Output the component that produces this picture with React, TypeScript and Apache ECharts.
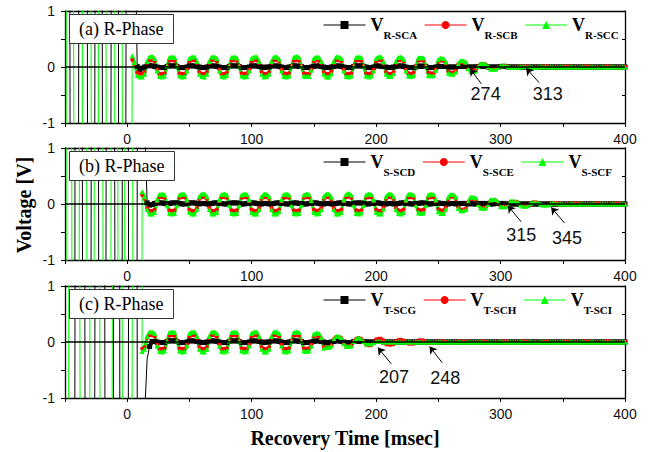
import React, { useEffect, useRef } from "react";
import * as echarts from "echarts";

// ---------- sampling ----------
const sampleStep = 2; // ms between recorded samples
const startBlackA = 8;
const startRedA = 4;
const startGreenA = 4;
const startBlackB = 16;
const startRedB = 12;
const startGreenB = 12;
const startBlackC = 18;
const startRedC = 12;
const startGreenC = 12;

// ---------- pre-fault off-scale swings and transients (time ms / volts) ----------
const preBlackTA = [-49, -43, -35, -29, -23, -17, -9, -5, 3, 6];
const preBlackVA = [50, -50, 50, -50, 50, -50, 50, -50, 50, 3];
const preGreenTA = [-50, -48, -38, -34, -24, -22, -12, -8, 0];
const preGreenVA = [-50, 50, -50, 50, -50, 50, -50, 50, -50];

const preBlackTB = [-44, -40, -32, -26, -20, -14, -6, -2, 4, 12, 14];
const preBlackVB = [-50, 50, -50, 50, -50, 50, -50, 50, -50, 50, 1.5];
const preGreenTB = [-50, -47, -42, -35, -30, -23, -16, -10, -5, 1, 8];
const preGreenVB = [-50, 50, -50, 50, -50, 50, -50, 50, -50, 50, -50];

const preBlackTC = [-46, -38, -30, -22, -14, -8, -4, 6, 10, 14, 16];
const preBlackVC = [-50, 50, -50, 50, -50, 50, -50, 50, -50, -1.3, -0.3];
const preGreenTC = [-50, -44, -32, -28, -16, -8, 0, 8];
const preGreenVC = [-50, 50, -50, 50, -50, 50, -50, 50];

// ---------- panel (a) samples ----------
const blackA = [
  0.01,
  -0.05, -0.02, 0, 0.02, 0.03, 0.02, 0.01, 0, -0.01, -0.01, -0.01, 0.01, 0.02, 0.02, 0.02, 0.01, -0.01, -0.01, -0.01, 0, 0.02, 0.02, 0.02, 0.01, 0,
  -0.01, -0.01, 0, 0.02, 0.02, 0.02, 0.01, 0, -0.01, -0.01, -0.01, 0.01, 0.02, 0.02, 0.02, 0.01, -0.01, -0.01, -0.01, 0, 0.02, 0.02, 0.02, 0.01, 0,
  -0.01, 0, 0, 0.02, 0.02, 0.02, 0.01, 0, -0.01, -0.01, 0, 0.01, 0.02, 0.02, 0.01, 0.01, -0.01, -0.01, -0.01, 0, 0.01, 0.02, 0.02, 0.01, 0,
  -0.01, -0.01, 0, 0.01, 0.02, 0.02, 0.01, 0, -0.01, -0.01, -0.01, 0.01, 0.02, 0.02, 0.02, 0.01, 0, -0.01, -0.01, 0, 0.02, 0.02, 0.01, 0.01, 0,
  -0.01, -0.01, 0, 0.01, 0.02, 0.02, 0.01, 0, -0.01, -0.01, -0.01, 0, 0.01, 0.02, 0.01, 0.01, -0.01, -0.01, -0.01, 0, 0.01, 0.01, 0.01, 0.01, 0,
  0, 0, 0, 0.01, 0.01, 0.01, 0.01, 0, 0, 0, 0, 0.01, 0.01, 0.01, 0.01, 0, 0, 0, 0, 0, 0.01, 0.01, 0.01, 0, 0,
  0, 0, 0, 0, 0, 0, 0, 0, 0, 0, 0, 0, 0, 0, 0, 0, 0, 0, 0, 0, 0, 0, 0, 0, 0,
  0, 0, 0, 0, 0, 0, 0, 0, 0, 0, 0, 0, 0, 0, 0, 0, 0, 0, 0, 0, 0,
];
const redA = [
  0.13, 0.05, -0.1,
  -0.12, -0.12, -0.09, 0.07, 0.12, 0.12, 0.1, -0.04, -0.12, -0.12, -0.11, 0.02, 0.11, 0.12, 0.11, 0.02, -0.11, -0.12, -0.12, -0.04, 0.1, 0.12, 0.12, 0.07, -0.09,
  -0.12, -0.12, -0.09, 0.07, 0.12, 0.13, 0.1, -0.04, -0.12, -0.12, -0.1, 0.02, 0.11, 0.12, 0.11, 0.02, -0.11, -0.12, -0.11, -0.04, 0.1, 0.12, 0.12, 0.07, -0.09,
  -0.12, -0.12, -0.09, 0.07, 0.12, 0.12, 0.1, -0.04, -0.11, -0.12, -0.11, 0.02, 0.11, 0.12, 0.11, 0.02, -0.11, -0.12, -0.12, -0.04, 0.1, 0.12, 0.11, 0.07, -0.09,
  -0.12, -0.12, -0.08, 0.07, 0.12, 0.12, 0.1, -0.04, -0.12, -0.12, -0.11, 0.02, 0.11, 0.12, 0.11, 0.02, -0.11, -0.12, -0.11, -0.04, 0.1, 0.12, 0.12, 0.06, -0.09,
  -0.12, -0.12, -0.09, 0.07, 0.12, 0.12, 0.1, -0.04, -0.11, -0.12, -0.1, 0.02, 0.11, 0.12, 0.11, 0.02, -0.1, -0.11, -0.11, -0.04, 0.09, 0.11, 0.11, 0.06, -0.08,
  -0.1, -0.1, -0.07, 0.05, 0.08, 0.08, 0.07, -0.02, -0.06, -0.06, -0.05, 0.01, 0.05, 0.05, 0.04, 0.01, -0.03, -0.03, -0.03, -0.01, 0.02, 0.02, 0.02, 0.01, -0.01,
  -0.01, -0.01, -0.01, 0.01, 0.01, 0.01, 0.01, 0, -0.01, -0.01, -0.01, 0, 0.01, 0.01, 0.01, 0, -0.01, -0.01, -0.01, 0, 0.01, 0.01, 0.01, 0.01, -0.01,
  -0.01, -0.01, -0.01, 0.01, 0.01, 0.01, 0.01, 0, -0.01, -0.01, -0.01, 0, 0.01, 0.01, 0.01, 0, -0.01, -0.01, -0.01, 0, 0.01,
];
const greenA = [
  0.2, 0.08, -0.15,
  -0.18, -0.18, -0.13, 0.1, 0.18, 0.19, 0.15, -0.07, -0.17, -0.18, -0.16, 0.02, 0.17, 0.18, 0.17, 0.02, -0.16, -0.18, -0.17, -0.07, 0.15, 0.18, 0.18, 0.1, -0.13,
  -0.17, -0.18, -0.13, 0.1, 0.18, 0.18, 0.15, -0.07, -0.17, -0.18, -0.15, 0.02, 0.17, 0.18, 0.16, 0.02, -0.16, -0.18, -0.17, -0.07, 0.15, 0.18, 0.18, 0.1, -0.13,
  -0.18, -0.17, -0.13, 0.1, 0.18, 0.18, 0.14, -0.07, -0.17, -0.18, -0.16, 0.02, 0.17, 0.19, 0.17, 0.02, -0.16, -0.17, -0.17, -0.06, 0.15, 0.18, 0.17, 0.1, -0.13,
  -0.18, -0.18, -0.12, 0.1, 0.18, 0.18, 0.15, -0.07, -0.17, -0.18, -0.16, 0.02, 0.17, 0.18, 0.17, 0.02, -0.16, -0.18, -0.16, -0.07, 0.15, 0.18, 0.18, 0.09, -0.13,
  -0.17, -0.17, -0.12, 0.1, 0.17, 0.18, 0.14, -0.07, -0.16, -0.17, -0.15, 0.02, 0.16, 0.17, 0.16, 0.02, -0.15, -0.16, -0.15, -0.06, 0.13, 0.16, 0.15, 0.09, -0.11,
  -0.13, -0.13, -0.09, 0.06, 0.11, 0.11, 0.09, -0.03, -0.08, -0.08, -0.07, 0.01, 0.06, 0.06, 0.06, 0.01, -0.04, -0.04, -0.04, -0.01, 0.02, 0.03, 0.03, 0.01, -0.01,
  -0.01, -0.01, 0, 0, 0.01, 0.01, 0, 0, 0, -0.01, 0, 0, 0, 0.01, 0, 0, 0, 0, 0, 0, 0, 0, 0, 0, 0,
  0, 0, 0, 0, 0, 0, 0, 0, 0, 0, 0, 0, 0, 0, 0, 0, 0, 0, 0, 0, 0,
];

// ---------- panel (b) samples ----------
const blackB = [
  0.02, -0.02, -0.01, 0.01, 0.02, 0.02, 0.02, 0.01, 0, 0.01, 0.02, 0.02, 0.02, 0.01, 0, 0, 0.01, 0.02, 0.02, 0.02, 0.01, 0,
  0.01, 0.01, 0, 0, 0.01, 0.02, 0.02, 0.01, 0.01, 0, 0, 0.01, 0.02, 0.02, 0.02, 0.01, 0, 0, 0.01, 0.01, 0.02, 0.02, 0.01, 0, 0,
  0.01, 0.01, 0, 0, 0.01, 0.02, 0.02, 0.01, 0.01, 0, 0, 0.01, 0.02, 0.02, 0.01, 0.01, 0, 0, 0.01, 0.01, 0.02, 0.02, 0.01, 0, 0,
  0.01, 0.01, 0, 0, 0.01, 0.02, 0.02, 0.01, 0.01, 0, 0, 0.01, 0.02, 0.02, 0.02, 0.01, 0, 0, 0.01, 0.01, 0.02, 0.02, 0.01, 0, 0,
  0.01, 0.01, 0, 0, 0.01, 0.02, 0.02, 0.01, 0.01, 0, 0, 0.01, 0.01, 0.02, 0.02, 0.01, 0, 0, 0.01, 0.01, 0.02, 0.01, 0.01, 0, 0,
  0.01, 0.01, 0, 0, 0.01, 0.01, 0.01, 0, 0.01, 0, 0, 0.01, 0.01, 0.01, 0.01, 0, 0, 0, 0.01, 0.01, 0.01, 0.01, 0, 0, 0,
  0, 0, 0, 0, 0, 0, 0, 0, 0, 0, 0, 0, 0, 0, 0, 0, 0, 0, 0, 0, 0, 0, 0, 0, 0,
  0, 0, 0, 0, 0, 0, 0, 0, 0, 0, 0, 0, 0, 0, 0, 0, 0, 0, 0, 0, 0,
];
const redB = [
  0.16, 0.09, -0.07, -0.12, -0.12, -0.1, 0.04, 0.12, 0.12, 0.11, -0.02, -0.11, -0.12, -0.11, -0.02, 0.11, 0.12, 0.12, 0.04, -0.1, -0.12, -0.12, -0.07, 0.09,
  0.12, 0.12, 0.09, -0.07, -0.12, -0.12, -0.1, 0.04, 0.12, 0.12, 0.11, -0.02, -0.11, -0.12, -0.11, -0.02, 0.11, 0.12, 0.12, 0.04, -0.1, -0.12, -0.12, -0.07, 0.09,
  0.12, 0.12, 0.09, -0.07, -0.12, -0.12, -0.1, 0.04, 0.11, 0.12, 0.11, -0.02, -0.11, -0.12, -0.11, -0.02, 0.11, 0.12, 0.12, 0.04, -0.1, -0.12, -0.11, -0.07, 0.09,
  0.12, 0.12, 0.08, -0.07, -0.12, -0.12, -0.1, 0.04, 0.12, 0.13, 0.11, -0.02, -0.11, -0.12, -0.11, -0.02, 0.11, 0.12, 0.12, 0.04, -0.1, -0.12, -0.12, -0.06, 0.09,
  0.12, 0.12, 0.09, -0.07, -0.11, -0.12, -0.1, 0.04, 0.12, 0.12, 0.11, -0.02, -0.1, -0.11, -0.1, -0.02, 0.11, 0.12, 0.12, 0.04, -0.09, -0.11, -0.11, -0.06, 0.08,
  0.13, 0.13, 0.09, -0.06, -0.1, -0.1, -0.08, 0.03, 0.09, 0.09, 0.08, -0.01, -0.06, -0.07, -0.06, -0.01, 0.06, 0.06, 0.06, 0.02, -0.04, -0.05, -0.05, -0.03, 0.04,
  0.04, 0.04, 0.03, -0.02, -0.03, -0.03, -0.02, 0.01, 0.03, 0.03, 0.02, 0, -0.02, -0.02, -0.02, 0, 0.02, 0.02, 0.01, 0.01, -0.01, -0.01, -0.01, 0, 0.01,
  0.01, 0.01, 0.01, -0.01, -0.01, -0.01, -0.01, 0, 0.01, 0.01, 0.01, 0, -0.01, -0.01, -0.01, 0, 0.01, 0.01, 0.01, 0, -0.01,
];
const greenB = [
  0.22, 0.13, -0.1, -0.18, -0.18, -0.15, 0.07, 0.17, 0.18, 0.16, -0.02, -0.17, -0.18, -0.17, -0.02, 0.16, 0.18, 0.17, 0.07, -0.15, -0.18, -0.18, -0.1, 0.13,
  0.18, 0.18, 0.13, -0.1, -0.18, -0.18, -0.15, 0.07, 0.17, 0.18, 0.16, -0.02, -0.17, -0.18, -0.17, -0.02, 0.16, 0.18, 0.17, 0.07, -0.15, -0.18, -0.18, -0.1, 0.13,
  0.18, 0.17, 0.13, -0.1, -0.18, -0.18, -0.14, 0.07, 0.17, 0.18, 0.16, -0.02, -0.17, -0.18, -0.17, -0.02, 0.16, 0.18, 0.17, 0.06, -0.15, -0.18, -0.17, -0.1, 0.13,
  0.18, 0.18, 0.12, -0.1, -0.18, -0.18, -0.15, 0.07, 0.17, 0.19, 0.16, -0.02, -0.17, -0.18, -0.16, -0.02, 0.16, 0.18, 0.17, 0.07, -0.15, -0.18, -0.18, -0.09, 0.13,
  0.18, 0.18, 0.13, -0.1, -0.17, -0.18, -0.15, 0.07, 0.17, 0.18, 0.16, -0.02, -0.16, -0.17, -0.16, -0.02, 0.16, 0.18, 0.17, 0.07, -0.14, -0.17, -0.17, -0.09, 0.12,
  0.17, 0.17, 0.12, -0.08, -0.12, -0.12, -0.1, 0.04, 0.12, 0.12, 0.11, -0.01, -0.07, -0.08, -0.07, -0.01, 0.07, 0.08, 0.08, 0.03, -0.05, -0.05, -0.05, -0.03, 0.05,
  0.05, 0.05, 0.03, -0.02, -0.04, -0.04, -0.03, 0.01, 0.03, 0.03, 0.03, 0, -0.02, -0.02, -0.02, 0, 0.02, 0.02, 0.01, 0, 0, 0, 0, 0, 0,
  0, 0, 0, 0, 0, 0, 0, 0, 0, 0, 0, 0, 0, 0, 0, 0, 0, 0, 0, 0, 0,
];

// ---------- panel (c) samples ----------
const blackC = [
  -0.08, 0.01, 0.01, 0, -0.01, -0.01, -0.01, 0.01, 0.02, 0.02, 0.02, 0.01, -0.01, -0.01, -0.01, 0, 0.02, 0.02, 0.02, 0.01, 0,
  -0.01, -0.01, 0, 0.02, 0.02, 0.02, 0.01, 0, -0.01, -0.01, -0.01, 0.01, 0.02, 0.02, 0.02, 0.01, -0.01, -0.01, -0.01, 0, 0.02, 0.02, 0.02, 0.01, 0,
  -0.01, 0, 0, 0.02, 0.02, 0.02, 0.01, 0, -0.01, -0.01, 0, 0.01, 0.02, 0.02, 0.01, 0.01, -0.01, -0.01, -0.01, 0, 0.01, 0.02, 0.02, 0.01, 0,
  -0.01, -0.01, 0, 0.01, 0.02, 0.02, 0.01, 0, -0.01, -0.01, -0.01, 0.01, 0.01, 0.01, 0.01, 0.01, 0, 0, 0, 0, 0.01, 0.01, 0.01, 0, 0,
  0, 0, 0, 0, 0, 0, 0, 0, 0, 0, 0, 0, 0, 0, 0, 0, 0, 0, 0, 0, 0, 0, 0, 0, 0,
  0, 0, 0, 0, 0, 0, 0, 0, 0, 0, 0, 0, 0, 0, 0, 0, 0, 0, 0, 0, 0, 0, 0, 0, 0,
  0, 0, 0, 0, 0, 0, 0, 0, 0, 0, 0, 0, 0, 0, 0, 0, 0, 0, 0, 0, 0, 0, 0, 0, 0,
  0, 0, 0, 0, 0, 0, 0, 0, 0, 0, 0, 0, 0, 0, 0, 0, 0, 0, 0, 0, 0,
];
const redC = [
  -0.12, -0.09, 0.07, 0.12, 0.12, 0.1, -0.04, -0.12, -0.12, -0.11, 0.02, 0.11, 0.12, 0.11, 0.02, -0.11, -0.12, -0.12, -0.04, 0.1, 0.12, 0.12, 0.07, -0.09,
  -0.12, -0.12, -0.09, 0.07, 0.12, 0.12, 0.1, -0.04, -0.12, -0.12, -0.11, 0.02, 0.11, 0.12, 0.11, 0.02, -0.11, -0.12, -0.12, -0.04, 0.1, 0.12, 0.12, 0.07, -0.09,
  -0.12, -0.12, -0.09, 0.07, 0.12, 0.12, 0.1, -0.04, -0.12, -0.12, -0.11, 0.02, 0.11, 0.12, 0.11, 0.02, -0.11, -0.12, -0.11, -0.04, 0.1, 0.11, 0.1, 0.06, -0.09,
  -0.09, -0.09, -0.06, 0.05, 0.09, 0.09, 0.07, -0.03, -0.07, -0.07, -0.06, 0.01, 0.06, 0.07, 0.06, 0.01, -0.05, -0.06, -0.06, -0.02, 0.05, 0.06, 0.06, 0.03, -0.04,
  -0.05, -0.05, -0.04, 0.02, 0.04, 0.04, 0.03, -0.01, -0.03, -0.03, -0.03, 0, 0.03, 0.03, 0.03, 0, -0.02, -0.02, -0.02, -0.01, 0.01, 0.01, 0.01, 0.01, -0.01,
  -0.01, -0.01, -0.01, 0.01, 0.01, 0.01, 0.01, 0, -0.01, -0.01, -0.01, 0, 0.01, 0.01, 0.01, 0, -0.01, -0.01, -0.01, 0, 0.01, 0.01, 0.01, 0.01, -0.01,
  -0.01, -0.01, -0.01, 0.01, 0.01, 0.01, 0.01, 0, -0.01, -0.01, -0.01, 0, 0.01, 0.01, 0.01, 0, -0.01, -0.01, -0.01, 0, 0.01, 0.01, 0.01, 0.01, -0.01,
  -0.01, -0.01, -0.01, 0.01, 0.01, 0.01, 0.01, 0, -0.01, -0.01, -0.01, 0, 0.01, 0.01, 0.01, 0, -0.01, -0.01, -0.01, 0, 0.01,
];
const greenC = [
  -0.17, -0.13, 0.1, 0.18, 0.18, 0.15, -0.07, -0.17, -0.18, -0.16, 0.02, 0.17, 0.18, 0.17, 0.02, -0.16, -0.18, -0.17, -0.07, 0.15, 0.18, 0.18, 0.1, -0.13,
  -0.18, -0.18, -0.13, 0.1, 0.18, 0.18, 0.15, -0.07, -0.17, -0.18, -0.16, 0.02, 0.17, 0.18, 0.17, 0.02, -0.16, -0.18, -0.17, -0.07, 0.15, 0.18, 0.18, 0.1, -0.13,
  -0.18, -0.18, -0.13, 0.1, 0.18, 0.18, 0.15, -0.07, -0.17, -0.18, -0.16, 0.02, 0.17, 0.18, 0.17, 0.02, -0.16, -0.17, -0.16, -0.07, 0.14, 0.16, 0.15, 0.08, -0.11,
  -0.1, -0.1, -0.07, 0.06, 0.1, 0.1, 0.08, -0.03, -0.08, -0.08, -0.07, 0.01, 0.06, 0.07, 0.06, 0.01, -0.03, -0.03, -0.03, -0.01, 0.01, 0.01, 0.01, 0, 0,
  0, 0, 0, 0, 0, 0, 0, 0, 0, 0, 0, 0, 0, 0, 0, 0, 0, 0, 0, 0, 0, 0, 0, 0, 0,
  0, 0, 0, 0, 0, 0, 0, 0, 0, 0, 0, 0, 0, 0, 0, 0, 0, 0, 0, 0, 0, 0, 0, 0, 0,
  0, 0, 0, 0, 0, 0, 0, 0, 0, 0, 0, 0, 0, 0, 0, 0, 0, 0, 0, 0, 0, 0, 0, 0, 0,
  0, 0, 0, 0, 0, 0, 0, 0, 0, 0, 0, 0, 0, 0, 0, 0, 0, 0, 0, 0, 0,
];

// ---------- labels ----------
const panelLabels = ["(a) R-Phase", "(b) R-Phase", "(c) R-Phase"];
const seriesNames = [
  ["R-SCA", "R-SCB", "R-SCC"],
  ["S-SCD", "S-SCE", "S-SCF"],
  ["T-SCG", "T-SCH", "T-SCI"],
];
const xTickLabels = [0, 100, 200, 300, 400];
const yTickLabels = [-1, 0, 1];

// annotations: [panel, text, textT, textV, fromT, fromV, toT, toV]
const annotations: [number, string, number, number, number, number, number, number][] = [
  [0, "274", 288, -0.48, 284.5, -0.3, 275.5, -0.03],
  [0, "313", 338, -0.48, 331, -0.28, 320.5, -0.02],
  [1, "315", 316.6, -0.56, 316.6, -0.32, 305.9, -0.03],
  [1, "345", 353.4, -0.6, 351.4, -0.34, 340.7, -0.06],
  [2, "207", 214.3, -0.62, 212.2, -0.39, 201.4, -0.1],
  [2, "248", 255.5, -0.64, 253.1, -0.37, 243, -0.08],
];

function mainPoints(start: number, vals: number[]) {
  return vals.map((v, i) => [start + i * sampleStep, v]);
}
function prePoints(preT: number[], preV: number[], main: number[][]) {
  const out = preT.map((t, i) => [t, preV[i]]);
  if (main.length) out.push(main[0]);
  return out;
}

const mainBlack = [mainPoints(startBlackA, blackA), mainPoints(startBlackB, blackB), mainPoints(startBlackC, blackC)];
const mainRed = [mainPoints(startRedA, redA), mainPoints(startRedB, redB), mainPoints(startRedC, redC)];
const mainGreen = [mainPoints(startGreenA, greenA), mainPoints(startGreenB, greenB), mainPoints(startGreenC, greenC)];
const preBlack = [
  prePoints(preBlackTA, preBlackVA, mainBlack[0]),
  prePoints(preBlackTB, preBlackVB, mainBlack[1]),
  prePoints(preBlackTC, preBlackVC, mainBlack[2]),
];
const preGreen = [
  prePoints(preGreenTA, preGreenVA, mainGreen[0]),
  prePoints(preGreenTB, preGreenVB, mainGreen[1]),
  prePoints(preGreenTC, preGreenVC, mainGreen[2]),
];

const gridTops = [11, 148, 286];
const gridHeight = 112;
const gridLeft = 65;
const gridWidth = 560;

const SANS = "Liberation Sans, Arial, sans-serif";
const SERIF = "Liberation Serif, Times New Roman, serif";

function buildOption() {
  const grid = gridTops.map((top) => ({ left: gridLeft, top, width: gridWidth, height: gridHeight }));
  const xAxis: any[] = [];
  const yAxis: any[] = [];
  gridTops.forEach((_, i) => {
    xAxis.push({
      type: "value",
      gridIndex: i,
      min: -50,
      max: 400,
      interval: 50,
      position: "bottom",
      axisLine: { onZero: false, lineStyle: { color: "#000", width: 1.3 } },
      axisTick: { inside: false, length: 4, lineStyle: { color: "#000", width: 1 } },
      splitLine: { show: false },
      axisLabel: {
        margin: 9,
        fontFamily: SANS,
        fontSize: 14,
        color: "#111",
        formatter: (v: number) => (xTickLabels.indexOf(v) >= 0 ? String(v) : ""),
      },
    });
    yAxis.push({
      type: "value",
      gridIndex: i,
      min: -1,
      max: 1,
      interval: 0.5,
      position: "left",
      axisLine: { onZero: false, lineStyle: { color: "#000", width: 1.3 } },
      axisTick: { inside: false, length: 4, lineStyle: { color: "#000", width: 1 } },
      splitLine: { show: false },
      axisLabel: {
        margin: 10,
        fontFamily: SANS,
        fontSize: 14,
        color: "#111",
        formatter: (v: number) => (yTickLabels.indexOf(v) >= 0 ? String(v) : ""),
      },
    });
  });
  gridTops.forEach((_, i) => {
    xAxis.push({
      type: "value",
      gridIndex: i,
      min: -50,
      max: 400,
      interval: 50,
      position: "top",
      axisLine: { onZero: false, lineStyle: { color: "#000", width: 1.3 } },
      axisTick: { show: false },
      axisLabel: { show: false },
      splitLine: { show: false },
    });
    yAxis.push({
      type: "value",
      gridIndex: i,
      min: -1,
      max: 1,
      interval: 0.5,
      position: "right",
      axisLine: { onZero: false, lineStyle: { color: "#000", width: 1.3 } },
      axisTick: { inside: true, length: 3, lineStyle: { color: "#000", width: 1 } },
      axisLabel: { show: false },
      splitLine: { show: false },
    });
  });

  const series: any[] = [];
  gridTops.forEach((_, i) => {
    const names = seriesNames[i];
    const ann = annotations.filter((a) => a[0] === i);
    // thin traces: pre-fault off-scale swings and switching transients
    series.push({
      type: "line",
      name: names[0] + " (pre)",
      xAxisIndex: i,
      yAxisIndex: i,
      data: preBlack[i],
      showSymbol: false,
      symbol: "none",
      clip: true,
      lineStyle: { color: "#000", width: 1 },
      markLine: {
        silent: true,
        symbol: "none",
        label: { show: false },
        lineStyle: { color: "#000", width: 1.5, type: "solid" },
        data: [{ yAxis: 0 }],
      },
    });
    series.push({
      type: "line",
      name: names[2] + " (pre)",
      xAxisIndex: i,
      yAxisIndex: i,
      data: preGreen[i],
      showSymbol: false,
      symbol: "none",
      clip: true,
      lineStyle: { color: "#00ff00", width: 1 },
    });
    series.push({
      type: "line",
      name: names[0],
      xAxisIndex: i,
      yAxisIndex: i,
      data: mainBlack[i],
      symbol: "rect",
      symbolSize: 5,
      clip: true,
      lineStyle: { color: "#000", width: 4 },
      itemStyle: { color: "#000" },
    });
    series.push({
      type: "line",
      name: names[1],
      xAxisIndex: i,
      yAxisIndex: i,
      data: mainRed[i],
      symbol: "circle",
      symbolSize: 4,
      clip: true,
      lineStyle: { color: "#ff0000", width: 2 },
      itemStyle: { color: "#ff0000" },
    });
    series.push({
      type: "line",
      name: names[2],
      xAxisIndex: i,
      yAxisIndex: i,
      data: mainGreen[i],
      symbol: "triangle",
      symbolSize: 5,
      clip: true,
      lineStyle: { color: "#00ff00", width: 3 },
      itemStyle: { color: "#00ff00" },
      markLine: {
        silent: true,
        label: { show: false },
        lineStyle: { color: "#000", width: 1, type: "solid" },
        data: ann.map((a) => [
          { coord: [a[4], a[5]], symbol: "none" },
          { coord: [a[6], a[7]], symbol: "arrow", symbolSize: 7 },
        ]),
      },
      markPoint: {
        silent: true,
        symbol: "circle",
        symbolSize: 1,
        itemStyle: { color: "rgba(0,0,0,0)" },
        label: {
          show: true,
          position: "inside",
          fontFamily: SANS,
          fontSize: 18,
          color: "#111",
          formatter: (p: any) => p.name,
        },
        data: ann.map((a) => ({ name: a[1], coord: [a[2], a[3]] })),
      },
    });
  });

  const legend = seriesNames.map((names, i) => ({
    data: names.map((n) => ({ name: n, itemStyle: {} })),
    left: 318,
    top: gridTops[i],
    orient: "horizontal",
    itemWidth: 42,
    itemHeight: 10,
    itemGap: 7,
    selectedMode: false,
    lineStyle: { width: 1 },
    formatter: (name: string) => `{v|V}{s|${name}}`,
    textStyle: {
      padding: [0, 0, 0, 0],
      rich: {
        v: { fontFamily: SERIF, fontWeight: "bold", fontSize: 18, lineHeight: 30, color: "#000" },
        s: { fontFamily: SERIF, fontWeight: "bold", fontSize: 11, lineHeight: 12, verticalAlign: "bottom", color: "#000" },
      },
    },
  }));

  const title = panelLabels.map((t, i) => ({
    text: t,
    left: 69,
    top: gridTops[i] + 3,
    padding: [5, 10, 5, 10],
    borderColor: "#333",
    borderWidth: 1,
    backgroundColor: "#fff",
    textStyle: { fontFamily: SERIF, fontSize: 18, fontWeight: "normal", color: "#000", lineHeight: 20 },
  }));

  return {
    animation: false,
    backgroundColor: "#fff",
    grid,
    xAxis,
    yAxis,
    series,
    legend,
    title,
    graphic: [
      {
        type: "text",
        x: 24,
        y: 205,
        rotation: Math.PI / 2,
        style: {
          text: "Voltage [V]",
          fontFamily: SERIF,
          fontWeight: "bold",
          fontSize: 20,
          fill: "#000",
          align: "center",
          verticalAlign: "middle",
        },
      },
      {
        type: "text",
        x: 345,
        y: 438,
        style: {
          text: "Recovery Time [msec]",
          fontFamily: SERIF,
          fontWeight: "bold",
          fontSize: 20,
          fill: "#000",
          align: "center",
          verticalAlign: "middle",
        },
      },
    ],
  };
}

export default function App() {
  const ref = useRef<HTMLDivElement>(null);
  useEffect(() => {
    if (!ref.current) return;
    const chart = echarts.init(ref.current, undefined, { renderer: "svg" });
    chart.setOption(buildOption() as any);
    return () => chart.dispose();
  }, []);
  return (
    <div
      ref={ref}
      style={{ position: "absolute", left: 0, top: 0, width: 651, height: 452, background: "#fff" }}
    />
  );
}
